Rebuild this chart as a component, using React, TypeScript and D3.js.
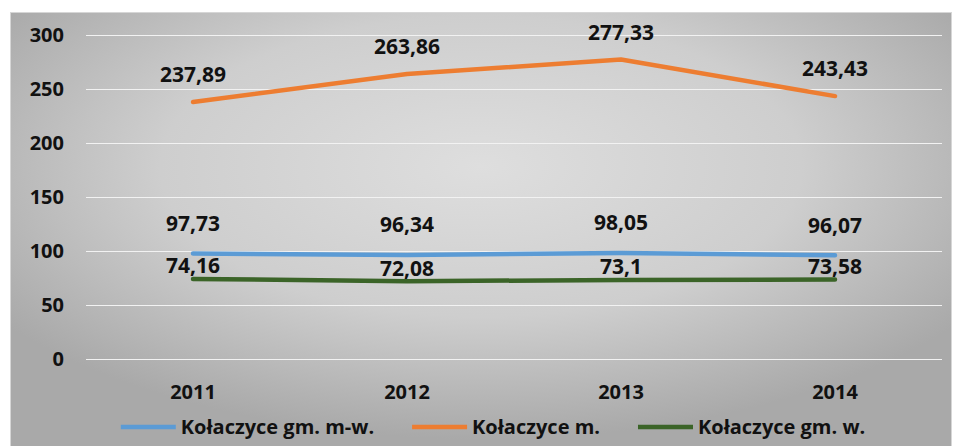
import React, { useRef, useEffect } from 'react';
import * as d3 from 'd3';

const years = ['2011', '2012', '2013', '2014'];
const gmMw = [97.73, 96.34, 98.05, 96.07];
const miasto = [237.89, 263.86, 277.33, 243.43];
const gmW = [74.16, 72.08, 73.1, 73.58];
const yTicks = [0, 50, 100, 150, 200, 250, 300];

const seriesNames = ['Kołaczyce gm. m-w.', 'Kołaczyce m.', 'Kołaczyce gm. w.'];

export default function App() {
  const svgRef = useRef<SVGSVGElement | null>(null);

  useEffect(() => {
    const W = 956,
      H = 446;
    const font = '"Open Sans", "Noto Sans", sans-serif';
    const svg = d3.select(svgRef.current);
    svg.selectAll('*').remove();

    // background gradient
    const defs = svg.append('defs');
    const grad = defs
      .append('radialGradient')
      .attr('id', 'bg')
      .attr('cx', '50%')
      .attr('cy', '35%')
      .attr('r', '62%');
    grad.append('stop').attr('offset', '0%').attr('stop-color', '#dedede');
    grad.append('stop').attr('offset', '55%').attr('stop-color', '#cecece');
    grad.append('stop').attr('offset', '100%').attr('stop-color', '#a9a9a9');

    svg.append('rect').attr('width', W).attr('height', H).attr('fill', '#fff');
    svg
      .append('rect')
      .attr('x', 10.5)
      .attr('y', 12.5)
      .attr('width', 941)
      .attr('height', 440)
      .attr('fill', 'url(#bg)')
      .attr('stroke', '#d6d6d6');

    const margin = { left: 86, right: 14, top: 35, bottom: 87 };
    const x = d3
      .scaleBand()
      .domain(years)
      .range([margin.left, W - margin.right]);
    const y = d3
      .scaleLinear()
      .domain([0, 300])
      .range([H - margin.bottom, margin.top]);

    // gridlines
    svg
      .append('g')
      .selectAll('line')
      .data(yTicks)
      .enter()
      .append('line')
      .attr('x1', margin.left)
      .attr('x2', W - margin.right)
      .attr('y1', d => Math.round(y(d)) + 0.5)
      .attr('y2', d => Math.round(y(d)) + 0.5)
      .attr('stroke', '#f2f2f2')
      .attr('stroke-width', 1.2);

    // y labels
    svg
      .append('g')
      .selectAll('text')
      .data(yTicks)
      .enter()
      .append('text')
      .attr('x', 64)
      .attr('y', d => y(d))
      .attr('dy', '0.35em')
      .attr('text-anchor', 'end')
      .attr('font-family', font)
      .attr('font-weight', 'bold')
      .attr('font-size', 20)
      .attr('fill', '#111')
      .text(d => d);

    // x labels
    svg
      .append('g')
      .selectAll('text')
      .data(years)
      .enter()
      .append('text')
      .attr('x', d => (x(d) as number) + x.bandwidth() / 2)
      .attr('y', 392)
      .attr('dy', '0.35em')
      .attr('text-anchor', 'middle')
      .attr('font-family', font)
      .attr('font-weight', 'bold')
      .attr('font-size', 20)
      .attr('fill', '#111')
      .text(d => d);

    const series = [
      { name: seriesNames[0], values: gmMw, color: '#5b9bd5', dy: -30 },
      { name: seriesNames[1], values: miasto, color: '#ed7d31', dy: -27 },
      { name: seriesNames[2], values: gmW, color: '#3b6428', dy: -13 }
    ];

    const line = d3
      .line<number>()
      .x((_, i) => (x(years[i]) as number) + x.bandwidth() / 2)
      .y(d => y(d));

    series.forEach(s => {
      svg
        .append('path')
        .datum(s.values)
        .attr('d', line)
        .attr('fill', 'none')
        .attr('stroke', s.color)
        .attr('stroke-width', 4.5)
        .attr('stroke-linecap', 'round')
        .attr('stroke-linejoin', 'round');
    });

    // data labels
    series.forEach(s => {
      svg
        .append('g')
        .selectAll('text')
        .data(s.values)
        .enter()
        .append('text')
        .attr('x', (_, i) => (x(years[i]) as number) + x.bandwidth() / 2)
        .attr('y', d => y(d) + s.dy)
        .attr('dy', '0.35em')
        .attr('text-anchor', 'middle')
        .attr('font-family', font)
        .attr('font-weight', 'bold')
        .attr('font-size', 21)
        .attr('fill', '#111')
        .text(d => String(d).replace('.', ','));
    });

    // legend
    const lineLen = 55,
      gap = 5,
      itemGap = 38,
      legendY = 427;
    const lg = svg.append('g');
    const items = series.map(s => {
      const g = lg.append('g');
      g.append('line')
        .attr('x1', 0)
        .attr('x2', lineLen)
        .attr('y1', legendY)
        .attr('y2', legendY)
        .attr('stroke', s.color)
        .attr('stroke-width', 4.5);
      const t = g
        .append('text')
        .attr('x', lineLen + gap)
        .attr('y', legendY)
        .attr('dy', '0.35em')
        .attr('font-family', font)
        .attr('font-weight', 'bold')
        .attr('font-size', 20)
        .attr('fill', '#111')
        .text(s.name);
      const w = lineLen + gap + (t.node() as SVGTextElement).getComputedTextLength();
      return { g, w };
    });
    const total = d3.sum(items, d => d.w) + itemGap * (items.length - 1);
    let cx = 493 - total / 2;
    items.forEach(it => {
      it.g.attr('transform', 'translate(' + cx + ',0)');
      cx += it.w + itemGap;
    });
  }, []);

  return (
    <svg
      ref={svgRef}
      width={956}
      height={446}
      style={{ position: 'absolute', left: 0, top: 0, display: 'block' }}
    />
  );
}
